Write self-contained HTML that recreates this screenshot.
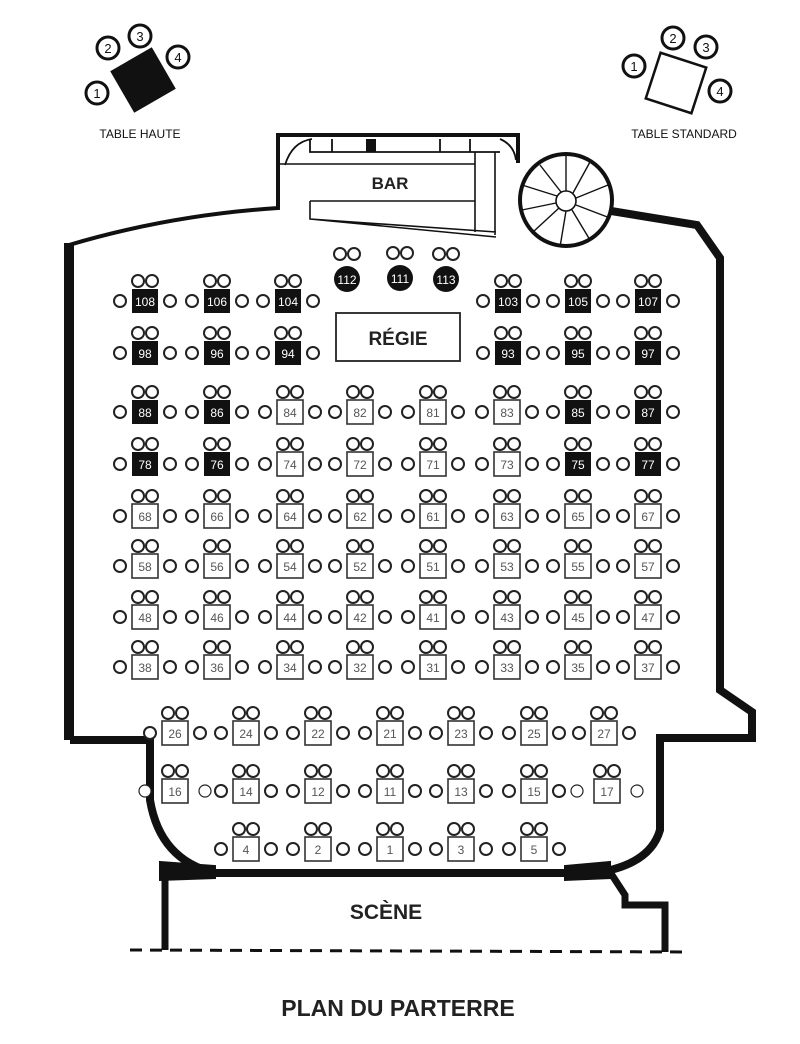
<!DOCTYPE html>
<html><head><meta charset="utf-8"><style>
html,body{margin:0;padding:0;background:#fff}
svg{display:block}
text{font-family:"Liberation Sans",sans-serif;text-anchor:middle}
.n{font-size:12px;fill:#555}
.b{font-size:12px;fill:#fff}
</style></head><body>
<svg width="800" height="1044" viewBox="0 0 800 1044" xmlns="http://www.w3.org/2000/svg">
<defs>
<g id="w"><rect x="-13" y="-12" width="26" height="24" fill="#fff" stroke="#333" stroke-width="1.6"/>
<g fill="#fff" stroke="#222" stroke-width="2"><circle cx="-7" cy="-20" r="6"/><circle cx="7" cy="-20" r="6"/><circle cx="-25" cy="0" r="6"/><circle cx="25" cy="0" r="6"/></g></g>
<g id="k"><rect x="-13" y="-12" width="26" height="24" fill="#111"/>
<g fill="#fff" stroke="#222" stroke-width="2"><circle cx="-7" cy="-20" r="6"/><circle cx="7" cy="-20" r="6"/><circle cx="-25" cy="0" r="6"/><circle cx="25" cy="0" r="6"/></g></g>
<g id="s"><rect x="-13" y="-12" width="26" height="24" fill="#fff" stroke="#333" stroke-width="1.6"/>
<g fill="#fff" stroke="#222" stroke-width="2"><circle cx="-7" cy="-20" r="6"/><circle cx="7" cy="-20" r="6"/></g>
<g fill="#fff" stroke="#222" stroke-width="1.2"><circle cx="-30" cy="0" r="6"/><circle cx="30" cy="0" r="6"/></g></g>
<g id="r"><circle cx="0" cy="0" r="13" fill="#111"/>
<g fill="#fff" stroke="#222" stroke-width="2"><circle cx="-7" cy="-25" r="6"/><circle cx="7" cy="-25" r="6"/></g></g>
</defs>

<!-- legend -->
<g transform="translate(143,80) rotate(-30)"><rect x="-24" y="-24" width="48" height="48" fill="#111"/></g>
<g fill="#fff" stroke="#111" stroke-width="3"><circle cx="97" cy="93" r="11"/><circle cx="108" cy="48" r="11"/><circle cx="140" cy="36" r="11"/><circle cx="178" cy="57" r="11"/></g>
<g style="font-size:13px;fill:#111"><text x="97" y="98">1</text><text x="108" y="53">2</text><text x="140" y="41">3</text><text x="178" y="62">4</text></g>
<g transform="translate(676,83) rotate(18)"><rect x="-24" y="-24" width="48" height="48" fill="#fff" stroke="#111" stroke-width="2.5"/></g>
<g fill="#fff" stroke="#111" stroke-width="3"><circle cx="634" cy="66" r="11"/><circle cx="673" cy="38" r="11"/><circle cx="706" cy="47" r="11"/><circle cx="720" cy="91" r="11"/></g>
<g style="font-size:13px;fill:#111"><text x="634" y="71">1</text><text x="673" y="43">2</text><text x="706" y="52">3</text><text x="720" y="96">4</text></g>
<text x="140" y="138" style="font-size:12px;fill:#111">TABLE HAUTE</text>
<text x="684" y="138" style="font-size:12px;fill:#111">TABLE STANDARD</text>

<!-- walls -->
<g fill="none" stroke="#111" stroke-linejoin="miter">
<path d="M69 245 Q170 215 278 208 L278 135 L518 135 L518 163" stroke-width="4"/>
<rect x="64" y="243" width="10" height="497" fill="#111" stroke="none"/>
<path d="M605 210 L697 225 L720 258 L720 690 L752 712 L752 738 L660 738 L660 830 Q650 865 595 873 L215 873 Q160 860 150 800 L150 740 L70 740" stroke-width="8"/>
<path d="M165 868 L165 950 M610 872 L625 895 L625 905 L665 905 L665 952" stroke-width="7"/>
<path d="M160 862 L215 866 L215 878 L160 880 Z M610 862 L565 866 L565 880 L610 878 Z" fill="#111" stroke-width="2"/>
<path d="M130 950 L690 952" stroke-width="3" stroke-dasharray="12,8"/>
<!-- bar interior -->
<path d="M285 165 Q292 142 312 139 M310 139 L310 152 L500 152 M370 139 L370 152 M332 139 L332 152 M440 139 L440 152 M470 139 L470 152 M500 139 Q514 145 516 160" stroke-width="1.8"/>
<rect x="366" y="139" width="10" height="13" fill="#111" stroke="none"/>
<path d="M278 164 L475 164 M310 201 L475 201 M475 152 L475 232 M495 152 L495 235 M310 201 L310 219 L496 232 M310 219 Q400 228 496 237" stroke-width="1.6"/>
<circle cx="566" cy="200" r="46" stroke-width="4" fill="#fff"/>
<circle cx="566" cy="201" r="10" stroke-width="1.6"/>
<path d="M566 191 L566 156 M573 193 L590 162 M576 198 L608 185 M576 205 L610 218 M572 210 L590 240 M566 211 L560 247 M559 208 L533 232 M556 203 L522 210 M557 196 L522 185 M561 192 L540 165" stroke-width="1.4"/>
</g>

<text x="390" y="189" style="font-size:17px;font-weight:bold;fill:#222">BAR</text>
<rect x="336" y="313" width="124" height="48" fill="#fff" stroke="#222" stroke-width="1.8"/>
<text x="398" y="345" style="font-size:19px;font-weight:bold;fill:#222">RÉGIE</text>
<text x="386" y="919" style="font-size:21px;font-weight:bold;fill:#222">SCÈNE</text>
<text x="398" y="1016" style="font-size:23px;font-weight:bold;fill:#222">PLAN DU PARTERRE</text>

<!-- round tables -->
<use href="#r" x="347" y="279"/><text class="b" x="347" y="284">112</text>
<use href="#r" x="400" y="278"/><text class="b" x="400" y="283">111</text>
<use href="#r" x="446" y="279"/><text class="b" x="446" y="284">113</text>

<!-- row 301 -->
<use href="#k" x="145" y="301"/><text class="b" x="145" y="306">108</text>
<use href="#k" x="217" y="301"/><text class="b" x="217" y="306">106</text>
<use href="#k" x="288" y="301"/><text class="b" x="288" y="306">104</text>
<use href="#k" x="508" y="301"/><text class="b" x="508" y="306">103</text>
<use href="#k" x="578" y="301"/><text class="b" x="578" y="306">105</text>
<use href="#k" x="648" y="301"/><text class="b" x="648" y="306">107</text>
<!-- row 353 -->
<use href="#k" x="145" y="353"/><text class="b" x="145" y="358">98</text>
<use href="#k" x="217" y="353"/><text class="b" x="217" y="358">96</text>
<use href="#k" x="288" y="353"/><text class="b" x="288" y="358">94</text>
<use href="#k" x="508" y="353"/><text class="b" x="508" y="358">93</text>
<use href="#k" x="578" y="353"/><text class="b" x="578" y="358">95</text>
<use href="#k" x="648" y="353"/><text class="b" x="648" y="358">97</text>
<!-- row 412 -->
<use href="#k" x="145" y="412"/><text class="b" x="145" y="417">88</text>
<use href="#k" x="217" y="412"/><text class="b" x="217" y="417">86</text>
<use href="#w" x="290" y="412"/><text class="n" x="290" y="417">84</text>
<use href="#w" x="360" y="412"/><text class="n" x="360" y="417">82</text>
<use href="#w" x="433" y="412"/><text class="n" x="433" y="417">81</text>
<use href="#w" x="507" y="412"/><text class="n" x="507" y="417">83</text>
<use href="#k" x="578" y="412"/><text class="b" x="578" y="417">85</text>
<use href="#k" x="648" y="412"/><text class="b" x="648" y="417">87</text>
<!-- row 464 -->
<use href="#k" x="145" y="464"/><text class="b" x="145" y="469">78</text>
<use href="#k" x="217" y="464"/><text class="b" x="217" y="469">76</text>
<use href="#w" x="290" y="464"/><text class="n" x="290" y="469">74</text>
<use href="#w" x="360" y="464"/><text class="n" x="360" y="469">72</text>
<use href="#w" x="433" y="464"/><text class="n" x="433" y="469">71</text>
<use href="#w" x="507" y="464"/><text class="n" x="507" y="469">73</text>
<use href="#k" x="578" y="464"/><text class="b" x="578" y="469">75</text>
<use href="#k" x="648" y="464"/><text class="b" x="648" y="469">77</text>
<!-- row 516 -->
<use href="#w" x="145" y="516"/><text class="n" x="145" y="521">68</text>
<use href="#w" x="217" y="516"/><text class="n" x="217" y="521">66</text>
<use href="#w" x="290" y="516"/><text class="n" x="290" y="521">64</text>
<use href="#w" x="360" y="516"/><text class="n" x="360" y="521">62</text>
<use href="#w" x="433" y="516"/><text class="n" x="433" y="521">61</text>
<use href="#w" x="507" y="516"/><text class="n" x="507" y="521">63</text>
<use href="#w" x="578" y="516"/><text class="n" x="578" y="521">65</text>
<use href="#w" x="648" y="516"/><text class="n" x="648" y="521">67</text>
<!-- row 566 -->
<use href="#w" x="145" y="566"/><text class="n" x="145" y="571">58</text>
<use href="#w" x="217" y="566"/><text class="n" x="217" y="571">56</text>
<use href="#w" x="290" y="566"/><text class="n" x="290" y="571">54</text>
<use href="#w" x="360" y="566"/><text class="n" x="360" y="571">52</text>
<use href="#w" x="433" y="566"/><text class="n" x="433" y="571">51</text>
<use href="#w" x="507" y="566"/><text class="n" x="507" y="571">53</text>
<use href="#w" x="578" y="566"/><text class="n" x="578" y="571">55</text>
<use href="#w" x="648" y="566"/><text class="n" x="648" y="571">57</text>
<!-- row 617 -->
<use href="#w" x="145" y="617"/><text class="n" x="145" y="622">48</text>
<use href="#w" x="217" y="617"/><text class="n" x="217" y="622">46</text>
<use href="#w" x="290" y="617"/><text class="n" x="290" y="622">44</text>
<use href="#w" x="360" y="617"/><text class="n" x="360" y="622">42</text>
<use href="#w" x="433" y="617"/><text class="n" x="433" y="622">41</text>
<use href="#w" x="507" y="617"/><text class="n" x="507" y="622">43</text>
<use href="#w" x="578" y="617"/><text class="n" x="578" y="622">45</text>
<use href="#w" x="648" y="617"/><text class="n" x="648" y="622">47</text>
<!-- row 667 -->
<use href="#w" x="145" y="667"/><text class="n" x="145" y="672">38</text>
<use href="#w" x="217" y="667"/><text class="n" x="217" y="672">36</text>
<use href="#w" x="290" y="667"/><text class="n" x="290" y="672">34</text>
<use href="#w" x="360" y="667"/><text class="n" x="360" y="672">32</text>
<use href="#w" x="433" y="667"/><text class="n" x="433" y="672">31</text>
<use href="#w" x="507" y="667"/><text class="n" x="507" y="672">33</text>
<use href="#w" x="578" y="667"/><text class="n" x="578" y="672">35</text>
<use href="#w" x="648" y="667"/><text class="n" x="648" y="672">37</text>
<!-- row 733 -->
<use href="#w" x="175" y="733"/><text class="n" x="175" y="738">26</text>
<use href="#w" x="246" y="733"/><text class="n" x="246" y="738">24</text>
<use href="#w" x="318" y="733"/><text class="n" x="318" y="738">22</text>
<use href="#w" x="390" y="733"/><text class="n" x="390" y="738">21</text>
<use href="#w" x="461" y="733"/><text class="n" x="461" y="738">23</text>
<use href="#w" x="534" y="733"/><text class="n" x="534" y="738">25</text>
<use href="#w" x="604" y="733"/><text class="n" x="604" y="738">27</text>
<!-- row 791 -->
<use href="#s" x="175" y="791"/><text class="n" x="175" y="796">16</text>
<use href="#w" x="246" y="791"/><text class="n" x="246" y="796">14</text>
<use href="#w" x="318" y="791"/><text class="n" x="318" y="796">12</text>
<use href="#w" x="390" y="791"/><text class="n" x="390" y="796">11</text>
<use href="#w" x="461" y="791"/><text class="n" x="461" y="796">13</text>
<use href="#w" x="534" y="791"/><text class="n" x="534" y="796">15</text>
<use href="#s" x="607" y="791"/><text class="n" x="607" y="796">17</text>
<!-- row 849 -->
<use href="#w" x="246" y="849"/><text class="n" x="246" y="854">4</text>
<use href="#w" x="318" y="849"/><text class="n" x="318" y="854">2</text>
<use href="#w" x="390" y="849"/><text class="n" x="390" y="854">1</text>
<use href="#w" x="461" y="849"/><text class="n" x="461" y="854">3</text>
<use href="#w" x="534" y="849"/><text class="n" x="534" y="854">5</text>
</svg>
</body></html>
